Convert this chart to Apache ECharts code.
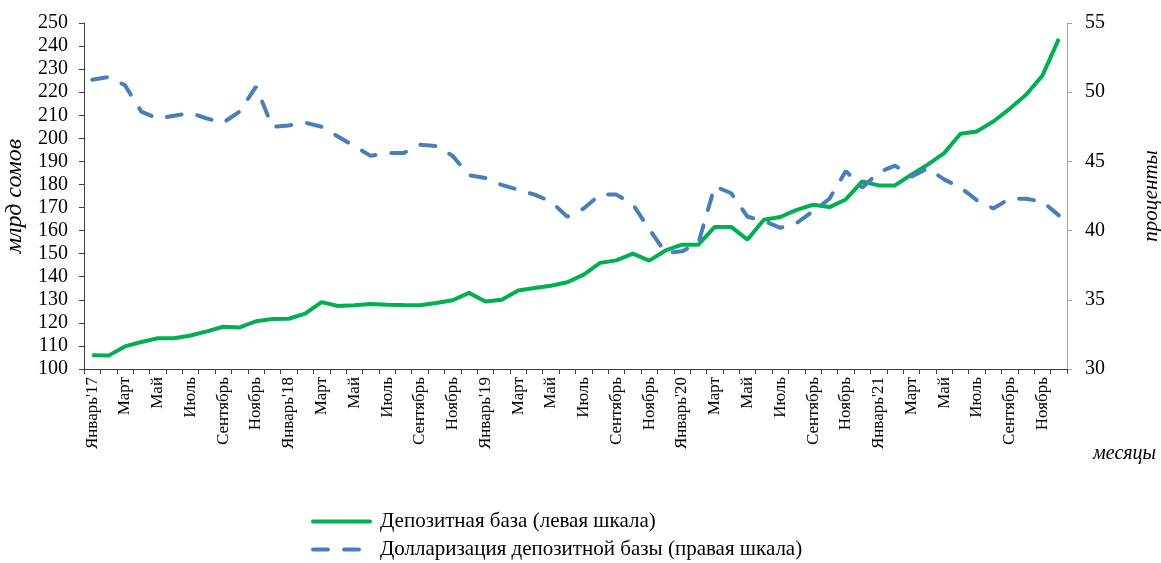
<!DOCTYPE html>
<html><head><meta charset="utf-8">
<script src="https://cdn.jsdelivr.net/npm/echarts@6/dist/echarts.min.js"></script>
<style>html,body{margin:0;padding:0;background:#fff}#c{width:1161px;height:563px}</style>
</head><body><div id="c"></div>
<script>
var monthNames = ['Январь','Февраль','Март','Апрель','Май','Июнь','Июль','Август','Сентябрь','Октябрь','Ноябрь','Декабрь'];
var years = ['17','18','19','20','21'];
var categories = [];
years.forEach(function(y){ monthNames.forEach(function(m,i){ categories.push(i===0 ? m + "'" + y : m); }); });

var depositBase = [
  106, 105.8, 109.8, 111.7, 113.3, 113.3, 114.5, 116.3, 118.3, 118, 120.7, 121.7,
  121.8, 124, 129, 127.3, 127.6, 128.2, 127.9, 127.7, 127.6, 128.6, 129.8, 133,
  129.3, 130, 134, 135.1, 136.1, 137.6, 140.9, 146, 147.1, 150, 147, 151.4,
  153.9, 153.9, 161.6, 161.6, 156.1, 164.7, 165.9, 169, 171.2, 170.2, 173.5, 181.3,
  179.6, 179.6, 184.2, 188.6, 193.6, 202, 203, 207.3, 212.8, 218.9, 227.2, 243.1
];
var dollarization = [
  50.9, 51.1, 50.5, 48.6, 48.1, 48.3, 48.5, 48.1, 47.8, 48.6, 50.4, 47.5,
  47.6, 47.8, 47.5, 46.8, 46.1, 45.4, 45.6, 45.6, 46.2, 46.1, 45.4, 44.0,
  43.8, 43.3, 42.95, 42.6, 42.1, 41.0, 41.6, 42.6, 42.6, 41.9, 40.1, 38.4,
  38.5, 39.1, 43.2, 42.7, 41.0, 40.7, 40.2, 40.55, 41.4, 42.3, 44.3, 43.1,
  44.2, 44.7, 43.9, 44.5, 43.7, 43.1, 42.2, 41.6, 42.3, 42.3, 42.1, 41.1
];
var leftTicks = {min:100, max:250, interval:10};
var rightTicks = {min:30, max:55, interval:5};

var FONT = '"Liberation Serif","Times New Roman",serif';
var darkAxis = '#404040';
var lightAxis = '#a0a0a0';
var chart = echarts.init(document.getElementById('c'));
chart.setOption({
  animation:false,
  textStyle:{fontFamily:FONT,color:'#000'},
  grid:{left:84,right:94,top:23,bottom:194,containLabel:false,outerBoundsMode:'none'},
  legend:{
    orient:'vertical', left:311, top:511, padding:0, itemGap:7, itemWidth:57, itemHeight:14,
    itemStyle:{opacity:0},
    lineStyle:{width:4,cap:'round'},
    textStyle:{fontFamily:FONT,fontSize:21,color:'#000',padding:[0,0,0,5]},
    data:['Депозитная база (левая шкала)','Долларизация депозитной базы (правая шкала)']
  },
  xAxis:{
    type:'category', data:categories, boundaryGap:true,
    axisLine:{lineStyle:{color:darkAxis,width:1}},
    axisTick:{show:true,interval:0,length:5,lineStyle:{color:darkAxis}},
    axisLabel:{interval:1,rotate:90,fontFamily:FONT,fontSize:17,color:'#000',margin:8,padding:[10,0,0,0]}
  },
  yAxis:[
    {type:'value', min:leftTicks.min, max:leftTicks.max, interval:leftTicks.interval,
     name:'млрд сомов', nameLocation:'middle', nameGap:47, nameRotate:90,
     nameTextStyle:{fontFamily:FONT,fontSize:24,fontStyle:'italic',color:'#000'},
     splitLine:{show:false},
     axisLine:{show:true,lineStyle:{color:darkAxis}},
     axisTick:{show:true,length:5,lineStyle:{color:darkAxis}},
     axisLabel:{fontFamily:FONT,fontSize:20,color:'#000',margin:16}},
    {type:'value', min:rightTicks.min, max:rightTicks.max, interval:rightTicks.interval,
     name:'проценты', nameLocation:'middle', nameGap:74, nameRotate:90,
     nameTextStyle:{fontFamily:FONT,fontSize:21,fontStyle:'italic',color:'#000'},
     splitLine:{show:false},
     axisLine:{show:true,lineStyle:{color:lightAxis}},
     axisTick:{show:true,length:5,lineStyle:{color:lightAxis}},
     axisLabel:{fontFamily:FONT,fontSize:20,color:'#000',margin:18}}
  ],
  graphic:[{type:'text',left:1093,top:444,style:{text:'месяцы',font:'italic 20px "Liberation Serif", serif',fill:'#000'}}],
  series:[
    {name:'Депозитная база (левая шкала)', type:'line', yAxisIndex:0, data:depositBase,
     symbol:'none', lineStyle:{color:'#00b050',width:4}, itemStyle:{color:'#00b050'}},
    {name:'Долларизация депозитной базы (правая шкала)', type:'line', yAxisIndex:1, data:dollarization,
     symbol:'none', lineStyle:{color:'#4a7ebb',width:4,type:[15,16],cap:'round'}, itemStyle:{color:'#4a7ebb'}}
  ]
});
</script></body></html>
